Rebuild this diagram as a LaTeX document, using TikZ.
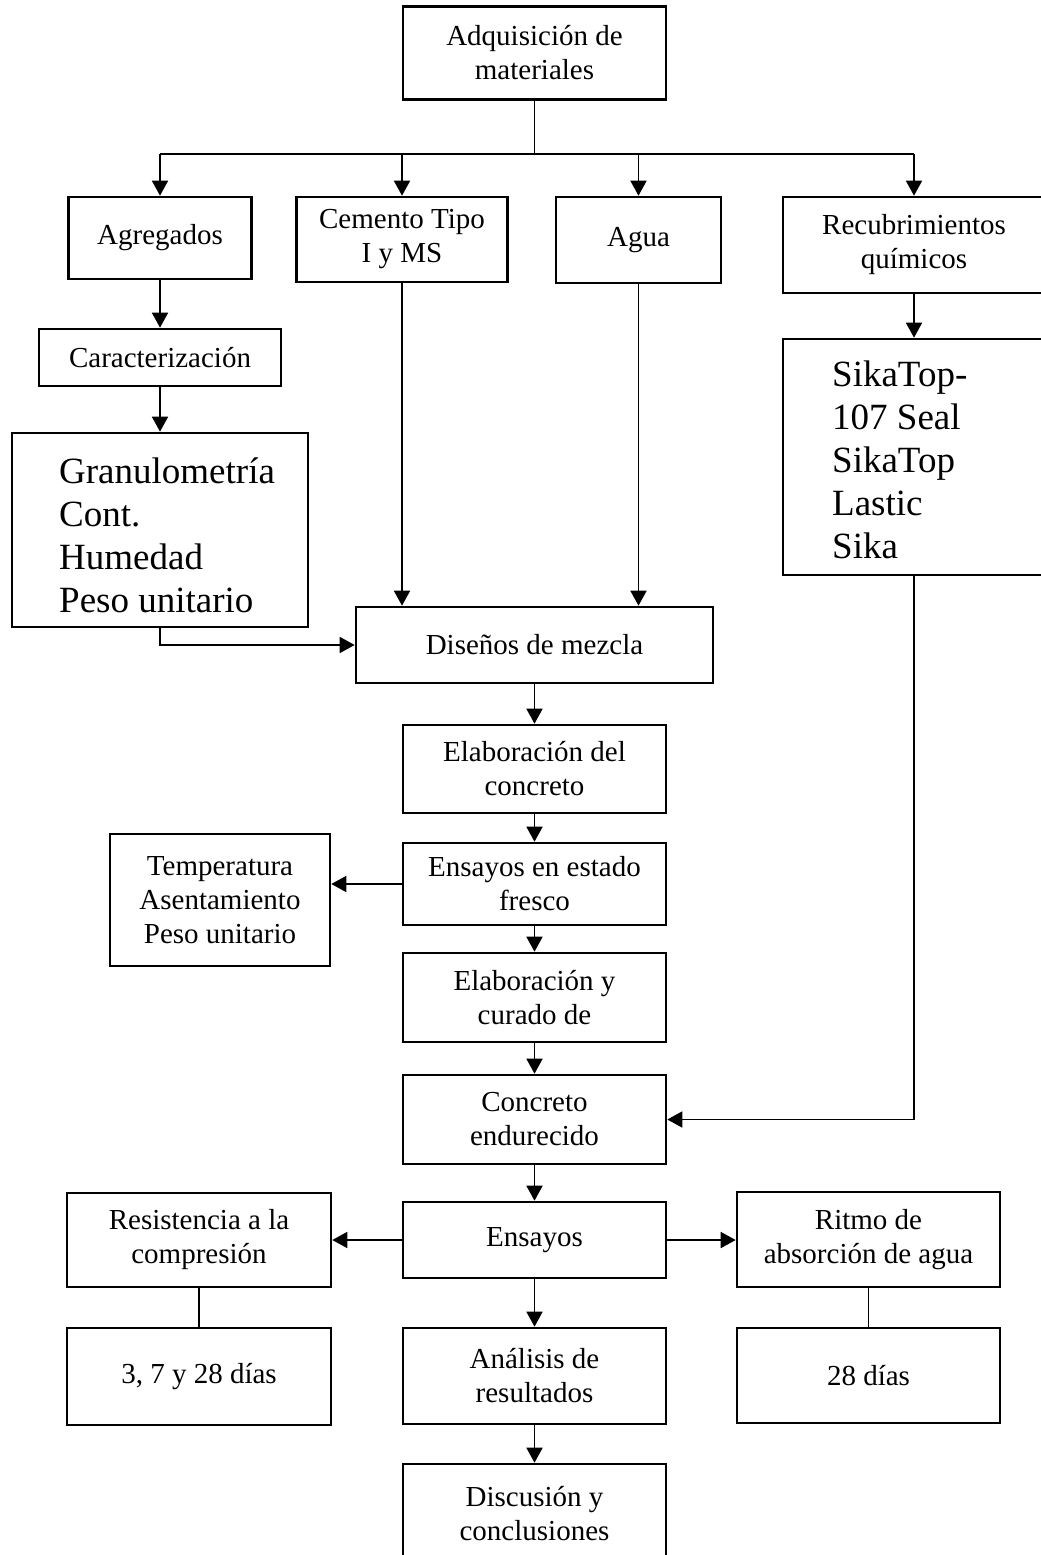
\documentclass[tikz,border=0pt]{standalone}
\usepackage{fontspec}
\setmainfont{Liberation Serif}
\usetikzlibrary{arrows.meta}
\begin{document}
\begin{tikzpicture}[x=1pt,y=-1pt,
  box/.style={draw, line width=2.6pt, inner sep=0pt, align=center,
    font=\fontsize{29}{34}\selectfont},
  bigtxt/.style={inner sep=0pt, align=left, anchor=west,
    font=\fontsize{37}{43}\selectfont},
  arr/.style={line width=1.7pt, -{Triangle[length=15pt,width=16pt]}},
  ln/.style={line width=1.7pt}]
\useasboundingbox (0,0) rectangle (1041,1555);
\clip (0,0) rectangle (1041,1555);
% top
\node[box, minimum width=263pt, minimum height=93pt] (adq) at (534.5,53) {Adquisici\'on de\\materiales};
\coordinate (bus) at (534.5,154);
\node[box, minimum width=183pt, minimum height=82pt] (agr) at (160,238) {Agregados};
\node[box, minimum width=211pt, minimum height=85pt] (cem) at (402,239.5) {Cemento Tipo\\I y MS};
\node[box, minimum width=165pt, minimum height=86pt] (agua) at (638.5,240) {Agua};
\node[box, minimum width=262pt, minimum height=96pt] (rec) at (914,245) {Recubrimientos\\qu\'imicos};
% left column
\node[box, minimum width=242pt, minimum height=57pt] (car) at (160,357.5) {Caracterizaci\'on};
\node[box, minimum width=296pt, minimum height=194pt] (gran) at (160,530) {};
\node[bigtxt] (granT) at (59,535) {Granulometr\'ia\\Cont.\\Humedad\\Peso unitario};
% right column
\node[box, minimum width=262pt, minimum height=236pt] (sika) at (914,457) {};
\node[bigtxt] (sikaT) at (832,460) {SikaTop-\\107 Seal\\SikaTop\\Lastic\\Sika};
% middle
\node[box, minimum width=357pt, minimum height=76pt] (dis) at (534.5,645) {Dise\~nos de mezcla};
\node[box, minimum width=263pt, minimum height=88pt] (elab) at (534.5,769) {Elaboraci\'on del\\concreto};
\node[box, minimum width=263pt, minimum height=82pt] (fres) at (534.5,884) {Ensayos en estado\\fresco};
\node[box, minimum width=220pt, minimum height=132pt] (temp) at (220,900) {Temperatura\\Asentamiento\\Peso unitario};
\node[box, minimum width=263pt, minimum height=89pt] (cur) at (534.5,997.5) {Elaboraci\'on y\\curado de};
\node[box, minimum width=263pt, minimum height=89pt] (endu) at (534.5,1119.5) {Concreto\\endurecido};
\node[box, minimum width=263pt, minimum height=76pt] (ens) at (534.5,1240) {Ensayos};
\node[box, minimum width=264pt, minimum height=94pt] (res) at (199,1240) {Resistencia a la\\compresi\'on};
\node[box, minimum width=263pt, minimum height=95pt] (rit) at (868.5,1239.5) {Ritmo de\\absorci\'on de agua};
\node[box, minimum width=264pt, minimum height=97pt] (d3) at (199,1376.5) {3, 7 y 28 d\'ias};
\node[box, minimum width=263pt, minimum height=95pt] (d28) at (868.5,1375.5) {28 d\'ias};
\node[box, minimum width=263pt, minimum height=96pt] (ana) at (534.5,1376) {An\'alisis de\\resultados};
\node[box, minimum width=263pt, minimum height=100pt] (disc) at (534.5,1514) {Discusi\'on y\\conclusiones};
% connectors
\draw[ln] (adq.south) -- (bus);
\draw[ln] (bus -| agr.north) -- (bus -| rec.north);
\draw[arr] (bus -| agr.north) -- (agr.north);
\draw[arr] (bus -| cem.north) -- (cem.north);
\draw[arr] (bus -| agua.north) -- (agua.north);
\draw[arr] (bus -| rec.north) -- (rec.north);
\draw[arr] (agr.south) -- (car.north);
\draw[arr] (car.south) -- (gran.north);
\draw[arr] (rec.south) -- (sika.north);
\draw[arr] (gran.south) |- (dis.west);
\draw[arr] (cem.south) -- (cem.south |- dis.north);
\draw[arr] (agua.south) -- (agua.south |- dis.north);
\draw[arr] (dis.south) -- (elab.north);
\draw[arr] (elab.south) -- (fres.north);
\draw[arr] (fres.west) -- (temp.east |- fres.west);
\draw[arr] (fres.south) -- (cur.north);
\draw[arr] (cur.south) -- (endu.north);
\draw[arr] (sika.south) |- (endu.east);
\draw[arr] (endu.south) -- (ens.north);
\draw[arr] (ens.west) -- (res.east |- ens.west);
\draw[arr] (ens.east) -- (rit.west |- ens.east);
\draw[ln] (res.south) -- (d3.north);
\draw[ln] (rit.south) -- (d28.north);
\draw[arr] (ens.south) -- (ana.north);
\draw[arr] (ana.south) -- (disc.north);
\end{tikzpicture}
\end{document}
